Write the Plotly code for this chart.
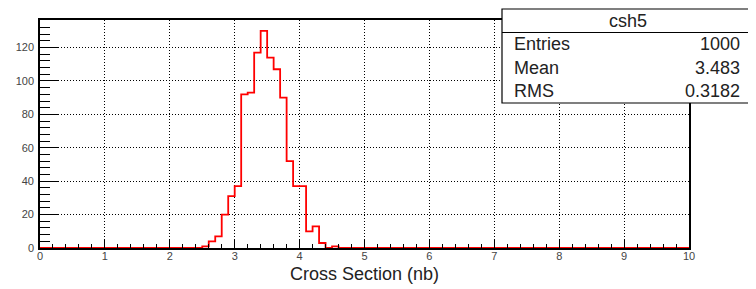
import numpy as np
import plotly.graph_objects as go

# ---- data ----
hist_name = "csh5"
x_title = "Cross Section (nb)"
bin_width = 0.1
first_bin_low = 2.5
counts = [1, 4, 7, 20, 31, 37, 92, 93, 117, 130, 114, 107, 90, 52, 37, 37, 10, 13, 3, 0, 1]
stats_labels = ["Entries", "Mean", "RMS"]
stats_values = ["1000", "3.483", "0.3182"]
x_range = [0, 10]
y_max = 136.5

# ---- geometry (window pixels; page body has an 8px margin) ----
OFF = 8
WIN_W, WIN_H = 756, 289
W, H = WIN_W - OFF, WIN_H - OFF
L, R, T, B = 40, 689, 20, 248  # plot area in window pixels


def px(xp):
    return (xp - L) / (R - L)


def py(yp):
    return (B - yp) / (B - T)


# step outline from bins (hv: value holds from each edge to the next)
edges = first_bin_low + bin_width * np.arange(len(counts) + 1)
xs_plot = np.concatenate([[x_range[0]], edges, [x_range[1]]])
ys_plot = np.concatenate([[0], counts, [0], [0]])[: len(xs_plot)]

fig = go.Figure()
fig.add_trace(go.Scatter(
    x=xs_plot, y=ys_plot, mode="lines", line_shape="hv",
    line=dict(color="#ff0000", width=1.8), hoverinfo="skip", showlegend=False,
))

font_family = "Liberation Sans, Arial, Helvetica, sans-serif"
grid_dash = "1px,2px"

fig.update_layout(
    width=W, height=H, autosize=False,
    margin=dict(l=L - OFF, r=WIN_W - R, t=T - OFF, b=WIN_H - B, pad=0),
    paper_bgcolor="white", plot_bgcolor="white",
    font=dict(family=font_family, color="black"),
    xaxis=dict(
        range=x_range, dtick=1, tick0=0, automargin=False,
        ticks="inside", ticklen=8, tickwidth=1, tickcolor="black",
        minor=dict(dtick=0.2, ticks="inside", ticklen=4, tickwidth=1, tickcolor="black", showgrid=False),
        showgrid=True, gridcolor="black", gridwidth=1, griddash=grid_dash,
        showline=True, linecolor="black", linewidth=1.6, mirror=True, zeroline=False,
        tickfont=dict(size=11, color="#444"), ticklabelstandoff=-3,
        title=dict(text=x_title, font=dict(size=18, color="#222"), standoff=6),
    ),
    yaxis=dict(
        range=[0, y_max], dtick=20, tick0=0, automargin=False,
        ticks="inside", ticklen=19, tickwidth=1, tickcolor="black",
        minor=dict(dtick=4, ticks="inside", ticklen=10, tickwidth=1, tickcolor="black", showgrid=False),
        showgrid=True, gridcolor="black", gridwidth=1, griddash=grid_dash,
        showline=True, linecolor="black", linewidth=1.6, mirror=True, zeroline=False,
        tickfont=dict(size=11, color="#444"), ticklabelstandoff=2,
    ),
)

# stats box
bx0, bx1, by0, by1, bsep = 502, 753, 103, 9, 32.5
fig.add_shape(type="rect", xref="paper", yref="paper",
              x0=px(bx0), x1=px(bx1), y0=py(by0), y1=py(by1),
              fillcolor="white", line=dict(color="black", width=1.2), layer="above")
fig.add_shape(type="line", xref="paper", yref="paper",
              x0=px(bx0), x1=px(bx1), y0=py(bsep), y1=py(bsep),
              line=dict(color="black", width=1.2), layer="above")
fig.add_annotation(xref="paper", yref="paper", x=px((bx0 + bx1) / 2), y=py(21),
                   text=hist_name, showarrow=False, xanchor="center", yanchor="middle",
                   font=dict(size=18, color="#222"))
row_y = [44.5, 68, 91]
for lab, val, yy in zip(stats_labels, stats_values, row_y):
    fig.add_annotation(xref="paper", yref="paper", x=px(512), y=py(yy), text=lab,
                       showarrow=False, xanchor="left", yanchor="middle",
                       font=dict(size=18, color="#222"))
    fig.add_annotation(xref="paper", yref="paper", x=px(742), y=py(yy), text=val,
                       showarrow=False, xanchor="right", yanchor="middle",
                       font=dict(size=18, color="#222"))

fig.write_html("out.html")
